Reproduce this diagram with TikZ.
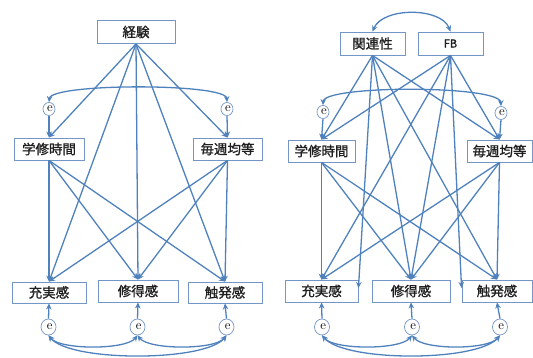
\documentclass[tikz,border=0pt]{standalone}
\usepackage{fontspec}
\newfontfamily\cjk[FakeBold=1.2]{Noto Sans CJK JP}
\usetikzlibrary{arrows.meta,shapes.geometric}
\definecolor{ln}{RGB}{79,129,189}
\definecolor{bx}{RGB}{115,150,198}
\begin{document}
\begin{tikzpicture}[x=1pt,y=-1pt,
  box/.style={draw=bx, line width=0.9pt, minimum height=22pt, inner sep=0pt,
    font=\cjk\fontsize{13.5}{16}\selectfont, text=black!88},
  err/.style={ellipse, draw=bx, line width=0.7pt, inner sep=0pt, fill=white,
    font=\fontsize{13}{14}\selectfont},
  con/.style={draw=ln, line width=1.3pt, -{Stealth[length=6pt,width=5.5pt]}},
  cov/.style={draw=ln, line width=1.3pt, {Stealth[length=6pt,width=5.5pt]}-{Stealth[length=6pt,width=5.5pt]}}
]
\useasboundingbox (0,0) rectangle (533,358);

% ---------- left model ----------
\node[box, minimum width=78pt, minimum height=23pt] (kei) at (136,32) {経験};
\node[box, minimum width=70pt] (g1) at (49,149) {学修時間};
\node[box, minimum width=69pt] (g2) at (227.5,149) {毎週均等};
\node[box, minimum width=74pt, minimum height=21pt] (b1) at (49,292.5) {充実感};
\node[box, minimum width=80pt] (b2) at (138,291) {修得感};
\node[box, minimum width=74pt, minimum height=21pt] (b3) at (225,292.5) {触発感};
\node[err, minimum width=12pt, minimum height=13pt] (e1) at (49,109) {\kern2pt\raisebox{-2pt}{e}};
\node[err, minimum width=12pt, minimum height=13pt] (e2) at (227,109) {\kern2pt\raisebox{-2pt}{e}};
\node[err, minimum width=15pt, minimum height=16pt] (f1) at (48.5,327) {\kern2.5pt\raisebox{-2.5pt}{e}};
\node[err, minimum width=15pt, minimum height=16pt] (f2) at (137.5,327) {\kern2.5pt\raisebox{-2.5pt}{e}};
\node[err, minimum width=15pt, minimum height=16pt] (f3) at (226.5,327) {\kern2.5pt\raisebox{-2.5pt}{e}};

\foreach \t in {g1,g2,b1,b2,b3} \draw[con] (kei.south) -- (\t.north);
\foreach \s in {g1,g2} \foreach \t in {b1,b2,b3} \draw[con] (\s.south) -- (\t.north);
\draw[con] (e1.south) -- (g1.north);
\draw[con] (e2.south) -- (g2.north);
\draw[cov] (e1.north) .. controls (51,83) and (226,83) .. (e2.north);
\foreach \e/\t in {f1/b1,f2/b2,f3/b3} \draw[con] (\e.north) -- (\t.south);
\draw[cov] (f1.south) .. controls (60,350) and (126,350) .. (f2.south);
\draw[cov] (f2.south) .. controls (149,350) and (215,350) .. (f3.south);
\draw[cov] (f1.south) .. controls (70,362) and (205,362) .. (f3.south);

% ---------- right model ----------
\node[box, minimum width=65pt, minimum height=23pt] (rel) at (372.5,43.5) {関連性};
\node[box, minimum width=65pt, minimum height=23pt] (fb) at (450.5,43.5) {\fontsize{11}{12}\selectfont FB};
\node[box, minimum width=67pt] (h1) at (321.5,151) {学修時間};
\node[box, minimum width=65pt] (h2) at (499.5,151) {毎週均等};
\node[box, minimum width=73pt] (c1) at (321.5,291) {充実感};
\node[box, minimum width=78pt] (c2) at (411,291) {修得感};
\node[box, minimum width=70pt] (c3) at (497,291) {触発感};
\node[err, minimum width=12pt, minimum height=13pt] (r1) at (323,112) {\kern2pt\raisebox{-2pt}{e}};
\node[err, minimum width=12pt, minimum height=13pt] (r2) at (501,113) {\kern2pt\raisebox{-2pt}{e}};
\node[err, minimum width=15pt, minimum height=16pt] (s1) at (322,327) {\kern2.5pt\raisebox{-2.5pt}{e}};
\node[err, minimum width=15pt, minimum height=16pt] (s2) at (412,327) {\kern2.5pt\raisebox{-2.5pt}{e}};
\node[err, minimum width=15pt, minimum height=16pt] (s3) at (500,327) {\kern2.5pt\raisebox{-2.5pt}{e}};

\draw[cov] (rel.north) .. controls (383,7) and (441,7) .. (fb.north);
\foreach \t in {h1,h2,c2,c3} \draw[con] (rel.south) -- (\t.north);
\draw[con] (rel.south) -- ([yshift=3pt]c1.east);
\foreach \t in {h1,h2,c1,c2} \draw[con] (fb.south) -- (\t.north);
\draw[con] (fb.south) -- ([yshift=3pt]c3.west);
\foreach \s in {h1,h2} \foreach \t in {c1,c2,c3} \draw[con] (\s.south) -- (\t.north);
\draw[con] (r1.south) -- (h1.north);
\draw[con] (r2.south) -- (h2.north);
\draw[cov] (r1.north) .. controls (324,85) and (500,85) .. (r2.north);
\foreach \e/\t in {s1/c1,s2/c2,s3/c3} \draw[con] (\e.north) -- (\t.south);
\draw[cov] (s1.south) .. controls (334,350) and (400,350) .. (s2.south);
\draw[cov] (s2.south) .. controls (424,350) and (488,350) .. (s3.south);
\draw[cov] (s1.south) .. controls (345,362) and (477,362) .. (s3.south);
\end{tikzpicture}
\end{document}
